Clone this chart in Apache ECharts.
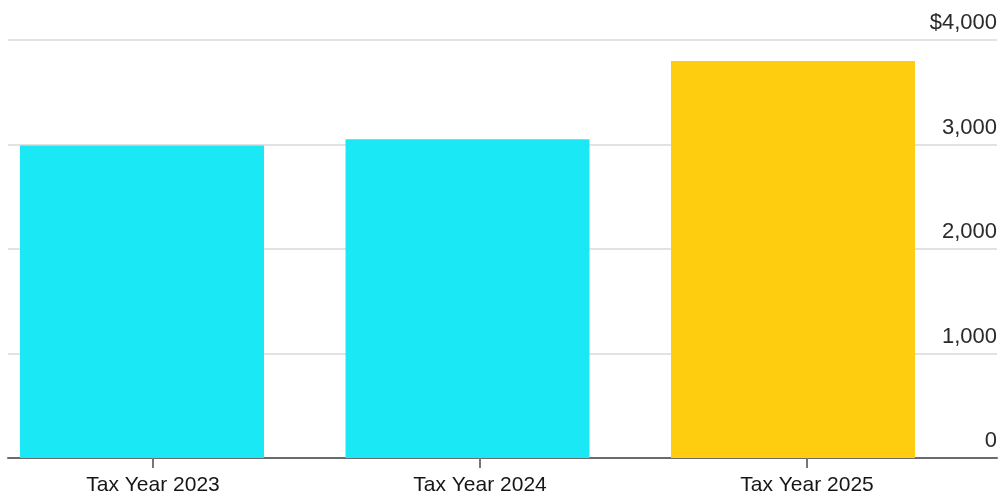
<!DOCTYPE html>
<html>
<head>
<meta charset="utf-8">
<script src="https://cdn.jsdelivr.net/npm/echarts@6/dist/echarts.min.js"></script>
<style>
  html, body { margin: 0; padding: 0; background: #fff; }
  #chart { width: 1000px; height: 497px; }
</style>
</head>
<body>
<div id="chart"></div>
<script>
    'use strict';

    // 数据
    var categories = ['Tax Year 2023', 'Tax Year 2024', 'Tax Year 2025'];
    var values = [2990, 3050, 3800];
    var barColors = ['#1be8f5', '#1be8f5', '#fecd0f'];
    var yTicks = [0, 1000, 2000, 3000, 4000];

    var chart = echarts.init(document.getElementById('chart'));

    // 柱子用数值轴定位, 0/1/2 对应三个年份
    var barData = [];
    var slots = [];
    for (var i = 0; i < values.length; i++) {
        barData.push({value: [i, values[i]], itemStyle: {color: barColors[i]}});
        slots.push(i);
    }

    var option = {
        animation: false,
        grid: {left: 8, right: 3, top: 40, bottom: 39},
        xAxis: [
            {
                // 柱子所在的轴
                type: 'value',
                min: -0.4117, max: 2.6267,
                axisLine: {show: true, onZero: false, lineStyle: {color: '#6b6b6b', width: 2}},
                axisTick: {show: false}, axisLabel: {show: false}, splitLine: {show: false}
            },
            {
                // 标签和刻度, 略微偏右
                type: 'value', position: 'bottom',
                min: -0.4434, max: 2.5810,
                axisLine: {show: false}, splitLine: {show: false},
                axisTick: {show: true, customValues: slots, length: 10, lineStyle: {color: '#777', width: 2}},
                axisLabel: {
                    customValues: slots,
                    margin: 17, color: '#161616', fontSize: 21,
                    fontFamily: 'Liberation Sans, Arial, sans-serif',
                    formatter: function (v) { return categories[Math.round(v)]; }
                }
            }
        ],
        yAxis: {
            type: 'value', position: 'right',
            min: yTicks[0], max: yTicks[yTicks.length - 1], interval: 1000,
            axisLine: {show: false}, axisTick: {show: false},
            splitLine: {lineStyle: {color: '#e2e2e2', width: 2}},
            axisLabel: {
                inside: true, margin: 0, align: 'right', verticalAlign: 'bottom',
                padding: [0, 0, 6, 0],
                color: '#2a2a2a', fontSize: 22,
                fontFamily: 'Liberation Sans, Arial, sans-serif',
                formatter: function (v) {
                    var s = v.toLocaleString('en-US');
                    return v === yTicks[yTicks.length - 1] ? '$' + s : s;
                }
            }
        },
        series: [
            {
                type: 'bar', xAxisIndex: 0,
                barWidth: 244, data: barData, z: 1
            }
        ]
    };

    chart.setOption(option);
</script>
</body>
</html>
